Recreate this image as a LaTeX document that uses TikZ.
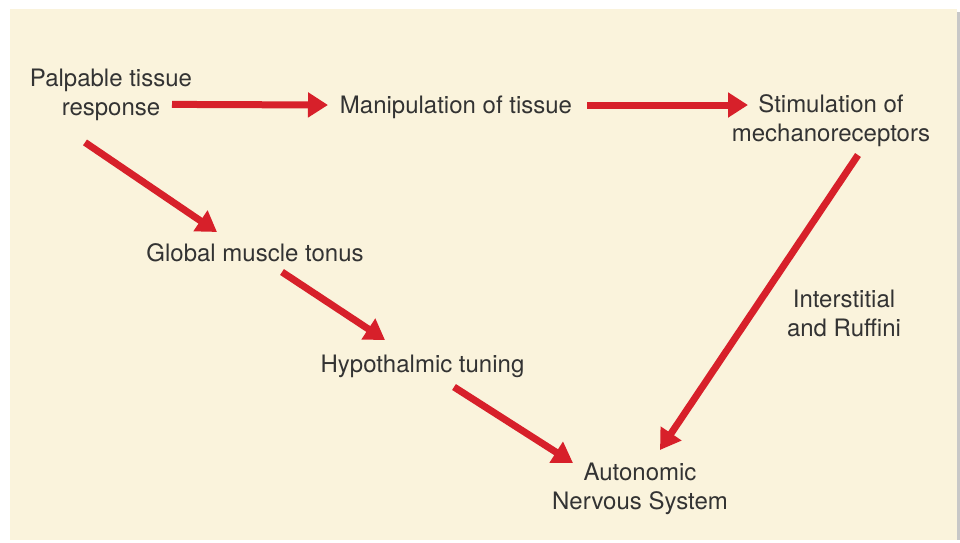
\documentclass[tikz,border=0pt]{standalone}
\usepackage{fontspec}
\newfontfamily\heros{TeX Gyre Heros}
\definecolor{nerveRed}{RGB}{215,32,42}
\definecolor{paperCream}{RGB}{250,243,220}
\definecolor{inkGray}{RGB}{51,51,51}
\usetikzlibrary{arrows.meta}

\begin{document}
\begin{tikzpicture}[x=0.5pt,y=-0.5pt,
    lbl/.style={align=center, inner sep=0pt, text=inkGray,
                font=\heros\fontsize{12}{14.5}\selectfont},
    conn/.style={-{Triangle[length=10pt,width=12pt]}, nerveRed, line width=3.5pt}
  ]
  \useasboundingbox (0,0) rectangle (960,542);
  \fill[black!22] (957,12) rectangle (960,540);
  \fill[paperCream] (10,9) rectangle (957,540);

  \node[lbl] (palp)  at (111,94.4)  {Palpable tissue\\response};
  \node[lbl, anchor=base] (manip) at (456,113) {Manipulation of tissue};
  \node[lbl] (stim)  at (831,121)   {Stimulation of\\mechanoreceptors};
  \node[lbl, anchor=base] (glob)  at (255,261) {Global muscle tonus};
  \node[lbl, anchor=base] (hypo)  at (422.5,372) {Hypothalmic tuning};
  \node[lbl] (inter) at (844,313)   {Interstitial\\and Ruffini};
  \node[lbl] (auto)  at (640,488.4) {Autonomic\\Nervous System};

  \draw[conn] ([shift={(61,10)}]palp.center) -- ([shift={(-128,-8)}]manip.base);
  \draw[conn] ([shift={(131,-8)}]manip.base) -- ([shift={(-83,-16)}]stim.center);
  \draw[conn] ([shift={(-26,48)}]palp.center) -- ([shift={(-38,-29)}]glob.base);
  \draw[conn] ([shift={(27,11)}]glob.base) -- ([shift={(-37.5,-32)}]hypo.base);
  \draw[conn] ([shift={(31.5,15)}]hypo.base) -- ([shift={(-67,-25.4)}]auto.center);
  \draw[conn] ([shift={(27,34)}]stim.center) -- ([shift={(20,-38.4)}]auto.center);
\end{tikzpicture}
\end{document}
